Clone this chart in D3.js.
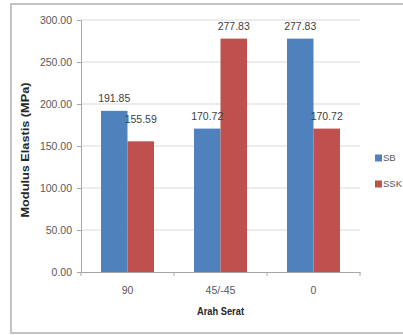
<!DOCTYPE html>
<html>
<head>
<meta charset="utf-8">
<script src="https://cdn.jsdelivr.net/npm/d3@7"></script>
<style>
  html, body { margin: 0; padding: 0; background: #fff; }
  svg { display: block; }
  text { font-family: "Liberation Sans", Arial, sans-serif; }
</style>
</head>
<body>
<svg id="chart" width="403" height="335"></svg>
<script>
// Fibre direction categories and modulus values per series
const categories = ["90", "45/-45", "0"];
const seriesNames = ["SB", "SSK"];
const sbValues = [191.85, 170.72, 277.83];
const sskValues = [155.59, 277.83, 170.72];
const yTicks = [0, 50, 100, 150, 200, 250, 300];
const colors = { SB: "#4F81BD", SSK: "#C0504D" };

const svg = d3.select("#chart");
const plot = { left: 81, right: 360, top: 20, bottom: 272 };
const fontSize = "10.5px";

// outer chart frame (runs off the right edge)
svg.append("rect")
  .attr("x", 11).attr("y", 4).attr("width", 420).attr("height", 329)
  .attr("fill", "#fff").attr("stroke", "#b5b5b5").attr("stroke-width", 1.6);

const x0 = d3.scaleBand().domain(categories).range([plot.left, plot.right]).paddingInner(0).paddingOuter(0);
const x1 = d3.scaleBand().domain(seriesNames).range([0, x0.bandwidth()]).paddingInner(0).paddingOuter(0.755);
const y = d3.scaleLinear().domain([0, 300]).range([plot.bottom, plot.top]);

// horizontal gridlines
svg.append("g").selectAll("line").data(yTicks.filter(d => d > 0)).join("line")
  .attr("x1", plot.left).attr("x2", plot.right)
  .attr("y1", d => y(d)).attr("y2", d => y(d))
  .attr("stroke", "#d9d9d9").attr("stroke-width", 1.2);

// y axis
const yAxis = d3.axisLeft(y).tickValues(yTicks).tickFormat(d3.format(".2f")).tickSize(4).tickPadding(5);
const gy = svg.append("g").attr("transform", `translate(${plot.left},0)`).call(yAxis);
gy.select(".domain").attr("stroke", "#a6a6a6");
gy.selectAll(".tick line").attr("stroke", "#a6a6a6");
gy.selectAll(".tick text").attr("fill", "#595959").style("font-size", fontSize)
  .style("font-family", "'Liberation Sans', Arial, sans-serif");

// bars
const rows = categories.map((c, i) => ({ cat: c, vals: [
  { name: "SB", value: sbValues[i] },
  { name: "SSK", value: sskValues[i] }
]}));

const groups = svg.append("g").selectAll("g").data(rows).join("g")
  .attr("transform", d => `translate(${x0(d.cat)},0)`);

groups.selectAll("rect").data(d => d.vals).join("rect")
  .attr("x", d => x1(d.name))
  .attr("width", x1.bandwidth())
  .attr("y", d => y(d.value))
  .attr("height", d => y(0) - y(d.value))
  .attr("fill", d => colors[d.name]);

// value labels (the 90° SSK label sits higher so it clears the SB label)
const labelLift = (cat, name) => (cat === "90" && name === "SSK") ? 18.5 : 9;
groups.selectAll("text.val").data(d => d.vals.map(v => ({ ...v, cat: d.cat }))).join("text")
  .attr("class", "val")
  .attr("x", d => x1(d.name) + x1.bandwidth() / 2)
  .attr("y", d => y(d.value) - labelLift(d.cat, d.name))
  .attr("text-anchor", "middle")
  .attr("fill", "#404040")
  .style("font-size", fontSize)
  .text(d => d.value.toFixed(2));

// x axis
const xAxis = d3.axisBottom(x0).tickSize(0).tickPadding(15);
const gx = svg.append("g").attr("transform", `translate(0,${plot.bottom})`).call(xAxis);
gx.select(".domain").attr("stroke", "#a6a6a6");
gx.selectAll(".tick text").attr("fill", "#595959").style("font-size", fontSize)
  .style("font-family", "'Liberation Sans', Arial, sans-serif");
// tick marks between categories
gx.append("g").selectAll("line").data(d3.range(categories.length + 1)).join("line")
  .attr("x1", i => plot.left + i * x0.step()).attr("x2", i => plot.left + i * x0.step())
  .attr("y1", 0).attr("y2", 4).attr("stroke", "#a6a6a6");

// axis titles
svg.append("text")
  .attr("x", (plot.left + plot.right) / 2).attr("y", 315)
  .attr("text-anchor", "middle").attr("fill", "#262626")
  .attr("textLength", 47).attr("lengthAdjust", "spacingAndGlyphs")
  .style("font-size", "10px").style("font-weight", "bold")
  .text("Arah Serat");

svg.append("text")
  .attr("transform", `translate(29,${(plot.top + plot.bottom) / 2 + 4}) rotate(-90)`)
  .attr("text-anchor", "middle").attr("fill", "#262626")
  .attr("textLength", 135).attr("lengthAdjust", "spacingAndGlyphs")
  .style("font-size", "10px").style("font-weight", "bold")
  .text("Modulus Elastis (MPa)");

// legend
const legend = svg.append("g").selectAll("g").data(seriesNames).join("g")
  .attr("transform", (d, i) => `translate(375,${158 + i * 26})`);
legend.append("rect").attr("x", 0).attr("y", -3.5).attr("width", 7).attr("height", 7)
  .attr("fill", d => colors[d]);
legend.append("text").attr("x", 8).attr("y", 0).attr("dy", "0.35em")
  .attr("fill", "#595959").style("font-size", "9.5px")
  .text(d => d);
</script>
</body>
</html>
